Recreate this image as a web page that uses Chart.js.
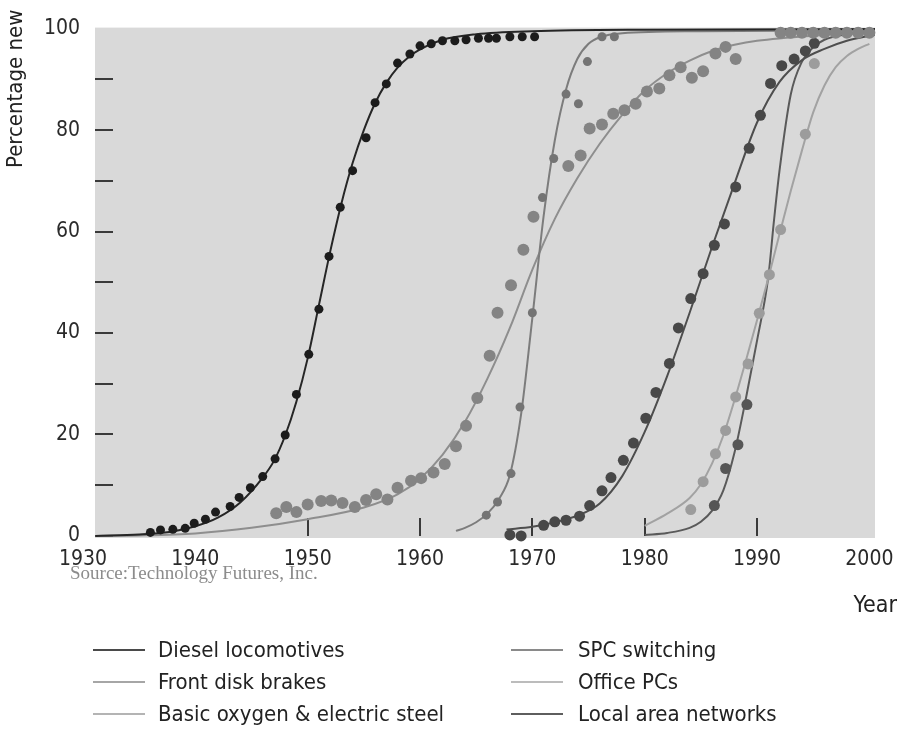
<!DOCTYPE html>
<html>
<head>
<meta charset="utf-8">
<title>Technology substitution curves</title>
<script src="https://cdn.jsdelivr.net/npm/chart.js@4.4.1/dist/chart.umd.min.js"></script>
<style>
  html, body { margin: 0; padding: 0; background: #fff; }
  #wrap { position: relative; width: 911px; height: 733px; overflow: hidden; }
  #chart { position: absolute; left: 0; top: 0; }
  .txt {
    position: absolute; white-space: nowrap; color: #222;
    font-family: "Liberation Sans Narrow", "DejaVu Sans Condensed", "Roboto Condensed", Roboto, sans-serif;
  }
  #ytitle { left: 4px; top: 168px; font-size: 22px; line-height: 22px; transform-origin: left top; transform: rotate(-90deg); }
  #xtitle { right: 14px; top: 591px; font-size: 23px; line-height: 26px; }
  #source { left: 70px; top: 562px; font-size: 19px; line-height: 22px; color: #8c8c8c;
            font-family: "Liberation Serif", "DejaVu Serif", serif; }
  .item { position: absolute; height: 26px; }
  .item .sw { position: absolute; left: 0; top: 12px; width: 52px; height: 2px; }
  .item .lb { top: 0; font-size: 22px; line-height: 26px; }
</style>
</head>
<body>
<div id="wrap">
  <canvas id="chart" width="911" height="733"></canvas>
  <div class="txt" id="ytitle">Percentage new</div>
  <div class="txt" id="source">Source:Technology Futures, Inc.</div>
  <div class="txt" id="xtitle">Year</div>
  <div id="legend"></div>
</div>
<script>
// Technology labels, in legend order
const technologies = [
  'Diesel locomotives',
  'Front disk brakes',
  'Basic oxygen & electric steel',
  'SPC switching',
  'Office PCs',
  'Local area networks'
];

// Axis tick values
const yearTicks = [1930, 1940, 1950, 1960, 1970, 1980, 1990, 2000];
const percentTicks = [0, 20, 40, 60, 80, 100];
const percentMarks = [0, 10, 20, 30, 40, 50, 60, 70, 80, 90];
const yearMarks = [1950, 1960, 1970, 1980, 1990];

// Observed shares: [year, percentage new]
const dieselObserved = [
  [1936.0, 0.7], [1936.9, 1.2], [1938.0, 1.3], [1939.1, 1.5], [1939.9, 2.5], [1940.9, 3.3],
  [1941.8, 4.7], [1943.1, 5.8], [1943.9, 7.6], [1944.9, 9.5], [1946.0, 11.7], [1947.1, 15.2],
  [1948.0, 19.9], [1949.0, 27.9], [1950.1, 35.8], [1951.0, 44.7], [1951.9, 55.1], [1952.9, 64.8],
  [1954.0, 72.0], [1955.2, 78.5], [1956.0, 85.4], [1957.0, 89.1], [1958.0, 93.2], [1959.1, 95.0],
  [1960.0, 96.6], [1961.0, 97.0], [1962.0, 97.6], [1963.1, 97.6], [1964.1, 97.8], [1965.2, 98.1],
  [1966.1, 98.1], [1966.8, 98.1], [1968.0, 98.4], [1969.1, 98.4], [1970.2, 98.4]
];
const diskBrakesObserved = [
  [1965.9, 4.1], [1966.9, 6.7], [1968.1, 12.3], [1968.9, 25.4], [1970.0, 44.0], [1970.9, 66.7],
  [1971.9, 74.4], [1973.0, 87.1], [1974.1, 85.2], [1974.9, 93.5], [1976.2, 98.4], [1977.3, 98.4]
];
const steelObserved = [
  [1947.2, 4.5], [1948.1, 5.7], [1949.0, 4.7], [1950.0, 6.2], [1951.2, 6.9], [1952.1, 7.0],
  [1953.1, 6.5], [1954.2, 5.7], [1955.2, 7.1], [1956.1, 8.2], [1957.1, 7.2], [1958.0, 9.5],
  [1959.2, 10.9], [1960.1, 11.4], [1961.2, 12.5], [1962.2, 14.2], [1963.2, 17.7], [1964.1, 21.7],
  [1965.1, 27.2], [1966.2, 35.5], [1966.9, 44.0], [1968.1, 49.4], [1969.2, 56.4], [1970.1, 62.9],
  [1973.2, 72.9], [1974.3, 75.0], [1975.1, 80.3], [1976.2, 81.1], [1977.2, 83.2], [1978.2, 83.9],
  [1979.2, 85.2], [1980.2, 87.6], [1981.3, 88.2], [1982.2, 90.8], [1983.2, 92.4], [1984.2, 90.3],
  [1985.2, 91.6], [1986.3, 95.1], [1987.2, 96.4], [1988.1, 94.0],
  [1992.1, 99.2], [1993.0, 99.2], [1994.0, 99.2], [1995.0, 99.2], [1996.0, 99.2],
  [1997.0, 99.2], [1998.0, 99.2], [1999.0, 99.2], [2000.0, 99.2]
];
const spcObserved = [
  [1968.0, 0.2], [1969.0, 0.0], [1971.0, 2.1], [1972.0, 2.8], [1973.0, 3.1], [1974.2, 3.9],
  [1975.1, 6.0], [1976.2, 8.9], [1977.0, 11.5], [1978.1, 14.9], [1979.0, 18.3], [1980.1, 23.2],
  [1981.0, 28.3], [1982.2, 34.0], [1983.0, 41.0], [1984.1, 46.8], [1985.2, 51.7], [1986.2, 57.3],
  [1987.1, 61.5], [1988.1, 68.8], [1989.3, 76.4], [1990.3, 82.9], [1991.2, 89.2], [1992.2, 92.7],
  [1993.3, 94.0], [1994.3, 95.6], [1995.1, 97.1]
];
const officePcObserved = [
  [1984.1, 5.2], [1985.2, 10.7], [1986.3, 16.2], [1987.2, 20.8], [1988.1, 27.4], [1989.2, 33.9],
  [1990.2, 43.9], [1991.1, 51.5], [1992.1, 60.4], [1994.3, 79.2], [1995.1, 93.1]
];
const lanObserved = [
  [1986.2, 6.0], [1987.2, 13.3], [1988.3, 18.0], [1989.1, 25.9]
];

// Fitted substitution curves: [year, percentage new]
const dieselFit = [
  [1931.1, 0.0], [1935, 0.3], [1938, 0.9], [1940, 1.9], [1942, 3.6], [1944, 6.6], [1946, 11.5],
  [1947, 14.8], [1948, 19.8], [1949, 26.5], [1950, 35.0], [1951, 45.5], [1952, 56.0], [1953, 65.5],
  [1954, 73.5], [1955, 80.0], [1956, 85.3], [1957, 89.3], [1958, 92.3], [1959, 94.4], [1960, 95.9],
  [1962, 97.8], [1965, 98.9], [1970, 99.5], [1980, 99.8], [2000.5, 99.9]
];
const diskBrakesFit = [
  [1963.2, 1.0], [1964, 1.6], [1965, 2.7], [1966, 4.4], [1967, 7.2], [1968, 12.0], [1969, 24.0],
  [1970, 43.0], [1971, 63.0], [1972, 78.0], [1973, 88.0], [1974, 94.0], [1975, 97.0], [1976, 98.3],
  [1978, 99.1], [1985, 99.5], [2000.5, 99.7]
];
const steelFit = [
  [1931.1, 0.0], [1935, 0.1], [1940, 0.5], [1945, 1.6], [1950, 3.3], [1955, 5.6], [1958, 8.2],
  [1960, 11.3], [1962, 16.0], [1964, 22.5], [1966, 31.0], [1968, 41.0], [1970, 52.5], [1972, 62.5],
  [1974, 70.5], [1976, 77.3], [1978, 83.0], [1980, 87.8], [1982, 91.2], [1984, 93.7], [1986, 95.6],
  [1988, 96.8], [1990, 97.6], [1995, 98.6], [2000.5, 99.2]
];
const spcFit = [
  [1967.7, 1.3], [1970, 1.8], [1972, 2.7], [1974, 4.0], [1976, 6.4], [1978, 11.8], [1980, 20.5],
  [1982, 31.5], [1984, 44.0], [1986, 57.0], [1988, 69.5], [1990, 81.5], [1992, 89.5], [1994, 93.8],
  [1996, 96.0], [1998, 97.6], [2000.5, 98.8]
];
const officePcFit = [
  [1980, 2.0], [1982, 4.4], [1984, 7.5], [1985, 10.2], [1986, 14.3], [1987, 19.8], [1988, 26.8],
  [1989, 34.5], [1990, 42.5], [1991, 50.8], [1992, 59.5], [1993, 68.0], [1994, 76.0], [1995, 83.5],
  [1996, 88.8], [1997, 92.4], [1998, 94.6], [1999, 96.0], [2000, 97.0]
];
const lanFit = [
  [1980, 0.2], [1982, 0.6], [1984, 1.6], [1985, 2.8], [1986, 5.0], [1987, 9.0], [1988, 16.5],
  [1989, 27.0], [1990, 38.5], [1991, 51.0], [1991.5, 62.0], [1992, 72.0], [1993, 87.0], [1994, 93.5],
  [1995, 96.3], [1996, 97.8], [1998, 98.9], [2000.5, 99.4]
];

const observedSeries = [dieselObserved, diskBrakesObserved, steelObserved, spcObserved, officePcObserved, lanObserved];
const fittedSeries = [dieselFit, diskBrakesFit, steelFit, spcFit, officePcFit, lanFit];

// Styling per technology
const lineColors   = ['#262626', '#7c7c7c', '#8e8e8e', '#4e4e4e', '#a2a2a2', '#5a5a5a'];
const dotColors    = ['#1c1c1c', '#747474', '#848484', '#484848', '#9c9c9c', '#565656'];
const swatchColors = ['#4a4a4a', '#a6a6a6', '#b4b4b4', '#8a8a8a', '#bcbcbc', '#5e5e5e'];
const dotRadius    = [4.5, 4.5, 6, 5.5, 5.5, 5.5];

const FONT = '"Liberation Sans Narrow", "DejaVu Sans Condensed", "Roboto Condensed", Roboto, sans-serif';

const datasets = [];
technologies.forEach((name, i) => {
  datasets.push({
    type: 'scatter',
    label: name + ' (observed)',
    data: observedSeries[i],
    pointRadius: dotRadius[i],
    pointBackgroundColor: dotColors[i],
    pointBorderWidth: 0,
    showLine: false,
    clip: false,
    order: 0
  });
  datasets.push({
    type: 'line',
    label: name,
    data: fittedSeries[i],
    borderColor: lineColors[i],
    borderWidth: 2,
    pointRadius: 0,
    fill: false,
    cubicInterpolationMode: 'monotone',
    order: 1
  });
});

// Grey plot field plus the short inside tick marks
const plotFrame = {
  id: 'plotFrame',
  beforeDraw(chart) {
    const { ctx, chartArea: a } = chart;
    ctx.save();
    ctx.fillStyle = '#d9d9d9';
    ctx.fillRect(a.left, a.top, a.right - a.left, a.bottom - a.top);
    ctx.restore();
  },
  beforeDatasetsDraw(chart) {
    const { ctx, chartArea: a, scales } = chart;
    ctx.save();
    ctx.strokeStyle = '#3a3a3a';
    ctx.lineWidth = 2;
    ctx.beginPath();
    percentMarks.forEach(v => {
      const y = Math.round(scales.y.getPixelForValue(v));
      ctx.moveTo(a.left, y);
      ctx.lineTo(a.left + 18, y);
    });
    yearMarks.forEach(v => {
      const x = Math.round(scales.x.getPixelForValue(v));
      ctx.moveTo(x, a.bottom - 2);
      ctx.lineTo(x, a.bottom - 20);
    });
    ctx.stroke();
    ctx.restore();
  }
};

const chart = new Chart(document.getElementById('chart'), {
  type: 'scatter',
  data: { datasets },
  options: {
    responsive: false,
    animation: false,
    events: [],
    layout: { padding: { left: 0, top: 20, right: 36, bottom: 155 } },
    plugins: { legend: { display: false }, tooltip: { enabled: false } },
    scales: {
      x: {
        type: 'linear',
        min: 1931.07,
        max: 2000.5,
        afterFit(s) { s.height = 40; },
        afterBuildTicks(s) { s.ticks = yearTicks.map(v => ({ value: v })); },
        grid: { display: false, drawTicks: false },
        border: { display: false },
        ticks: {
          autoSkip: false, maxRotation: 0, padding: 9, color: '#2a2a2a',
          font: { family: FONT, size: 21 },
          callback: v => String(v)
        }
      },
      y: {
        type: 'linear',
        min: -0.4,
        max: 100.2,
        afterFit(s) { s.width = 95; },
        afterBuildTicks(s) { s.ticks = percentTicks.map(v => ({ value: v })); },
        grid: { display: false, drawTicks: false },
        border: { display: false },
        ticks: {
          padding: 15, color: '#2a2a2a',
          font: { family: FONT, size: 21 },
          callback: v => String(v)
        }
      }
    }
  },
  plugins: [plotFrame]
});

// Two-column legend built from the fitted-curve datasets
const legendEl = document.getElementById('legend');
const fitted = chart.data.datasets.filter(d => d.type === 'line');
fitted.forEach((d, i) => {
  const col = Math.floor(i / 3), row = i % 3;
  const item = document.createElement('div');
  item.className = 'item';
  item.style.left = (col === 0 ? 93 : 511) + 'px';
  item.style.top = (637 + row * 32) + 'px';
  const sw = document.createElement('div');
  sw.className = 'sw';
  sw.style.background = swatchColors[technologies.indexOf(d.label)];
  const lb = document.createElement('div');
  lb.className = 'txt lb';
  lb.style.left = (col === 0 ? 65 : 67) + 'px';
  lb.textContent = d.label;
  item.appendChild(sw);
  item.appendChild(lb);
  legendEl.appendChild(item);
});
</script>
</body>
</html>
